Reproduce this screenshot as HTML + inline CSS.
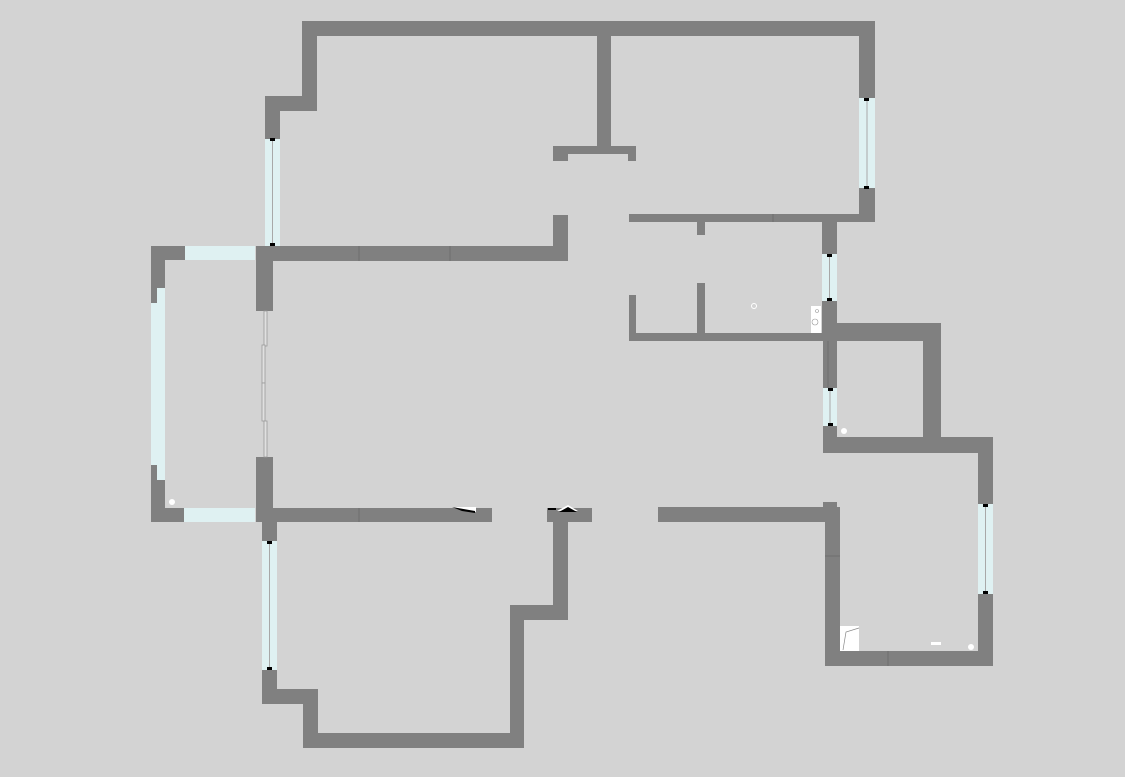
<!DOCTYPE html>
<html><head><meta charset="utf-8"><style>
html,body{margin:0;padding:0;background:#d3d3d3;}
svg{display:block;}
</style></head><body>
<svg width="1125" height="777" viewBox="0 0 1125 777" xmlns="http://www.w3.org/2000/svg">
<rect width="1125" height="777" fill="#d3d3d3"/>
<g fill="#808080">
<!-- top -->
<rect x="302" y="21" width="573" height="15"/>
<rect x="302" y="21" width="15" height="90"/>
<rect x="265" y="96" width="52" height="15"/>
<rect x="265" y="111" width="15" height="28"/>
<rect x="597" y="36" width="14" height="110"/>
<rect x="553" y="146" width="83" height="8"/>
<rect x="553" y="146" width="15" height="15"/>
<rect x="628" y="146" width="8" height="15"/>
<rect x="256" y="246" width="312" height="15"/>
<rect x="553" y="215" width="15" height="46"/>
<rect x="629" y="214" width="246" height="8"/>
<rect x="859" y="21" width="16" height="77"/>
<rect x="859" y="188" width="16" height="34"/>
<rect x="697" y="222" width="8" height="13"/>
<rect x="697" y="283" width="8" height="55"/>
<rect x="629" y="295" width="7" height="46"/>
<rect x="629" y="333" width="208" height="8"/>
<rect x="822" y="222" width="15" height="32"/>
<rect x="822" y="301" width="15" height="40"/>
<rect x="837" y="323" width="104" height="18"/>
<rect x="923" y="323" width="18" height="114"/>
<rect x="823" y="341" width="14" height="47"/>
<rect x="823" y="426" width="14" height="27"/>
<rect x="823" y="437" width="170" height="16"/>
<rect x="978" y="453" width="15" height="51"/>
<rect x="978" y="594" width="15" height="72"/>
<rect x="825" y="651" width="168" height="15"/>
<rect x="825" y="507" width="15" height="159"/>
<rect x="658" y="507" width="182" height="15"/>
<rect x="823" y="502" width="14" height="6"/>
<!-- left bay -->
<rect x="151" y="246" width="34" height="14"/>
<rect x="151" y="246" width="14" height="42"/>
<rect x="151" y="288" width="6" height="15"/>
<rect x="151" y="465" width="6" height="57"/>
<rect x="151" y="480" width="14" height="42"/>
<rect x="151" y="508" width="33" height="14"/>
<rect x="256" y="246" width="17" height="65"/>
<rect x="256" y="457" width="17" height="65"/>
<rect x="256" y="508" width="236" height="14"/>
<!-- bottom left room -->
<rect x="262" y="522" width="15" height="19"/>
<rect x="262" y="670" width="15" height="34"/>
<rect x="262" y="689" width="56" height="15"/>
<rect x="303" y="689" width="15" height="59"/>
<rect x="303" y="733" width="221" height="15"/>
<rect x="510" y="605" width="14" height="143"/>
<rect x="510" y="605" width="58" height="15"/>
<rect x="553" y="515" width="15" height="105"/>
<rect x="547" y="508" width="45" height="14"/>
</g>
<g stroke="#6e6e6e" stroke-width="1">
<line x1="359" y1="246" x2="359" y2="261"/><line x1="450" y1="246" x2="450" y2="261"/>
<line x1="359" y1="508" x2="359" y2="522"/>
<line x1="773" y1="214" x2="773" y2="222"/>
<line x1="825" y1="556" x2="840" y2="556"/><line x1="888" y1="651" x2="888" y2="666"/>
<line x1="828" y1="341" x2="828" y2="388"/>
</g>
<!-- glass -->
<g fill="#dff1f2">
<rect x="265" y="139" width="15" height="107"/>
<rect x="859" y="98" width="16" height="90"/>
<rect x="822" y="254" width="15" height="47"/>
<rect x="823" y="388" width="14" height="38"/>
<rect x="978" y="504" width="15" height="90"/>
<rect x="262" y="541" width="15" height="129"/>
<rect x="185" y="246" width="70" height="14"/>
<rect x="184" y="508" width="71" height="14"/>
<rect x="157" y="288" width="8" height="192"/>
<rect x="151" y="303" width="6" height="162"/>
</g>
<g stroke="#a8a8a8" stroke-width="1">
<line x1="272.5" y1="141" x2="272.5" y2="244"/>
<line x1="867" y1="100" x2="867" y2="186"/>
<line x1="829.5" y1="256" x2="829.5" y2="299"/>
<line x1="830" y1="390" x2="830" y2="424"/>
<line x1="985.5" y1="506" x2="985.5" y2="592"/>
<line x1="269.5" y1="543" x2="269.5" y2="668"/>
</g>
<g fill="#000">
<rect x="270" y="138" width="5" height="3"/><rect x="270" y="243" width="5" height="3"/>
<rect x="864" y="98" width="5" height="3"/><rect x="864" y="186" width="5" height="3"/>
<rect x="827" y="254" width="5" height="3"/><rect x="827" y="298" width="5" height="3"/>
<rect x="828" y="388" width="5" height="3"/><rect x="828" y="423" width="5" height="3"/>
<rect x="983" y="504" width="5" height="3"/><rect x="983" y="591" width="5" height="3"/>
<rect x="267" y="541" width="5" height="3"/><rect x="267" y="667" width="5" height="3"/>
</g>
<!-- sliding door -->
<g fill="#e0e0e0" stroke="#9a9a9a" stroke-width="0.8">
<rect x="264" y="311" width="3" height="35"/>
<rect x="262" y="345" width="3" height="38"/>
<rect x="262" y="383" width="3" height="38"/>
<rect x="264" y="421" width="3" height="36"/>
</g>
<!-- fixtures -->
<rect x="811" y="306" width="10" height="27" fill="#fff"/>
<circle cx="817" cy="311" r="1.5" fill="none" stroke="#999" stroke-width="0.6"/>
<circle cx="815" cy="322" r="3" fill="none" stroke="#999" stroke-width="0.6"/>
<circle cx="754" cy="306" r="2.5" fill="none" stroke="#fff" stroke-width="1"/>
<circle cx="844" cy="431" r="3" fill="#fff"/>
<circle cx="172" cy="502" r="3" fill="#fff"/>
<circle cx="971" cy="647" r="3" fill="#fff"/>
<rect x="931" y="642" width="10" height="3" fill="#fff"/>
<polygon points="840,626 859,626 859,651 840,651" fill="#fff"/>
<polyline points="843,650 846,632 859,628" fill="none" stroke="#888" stroke-width="0.7"/>
<polygon points="452,507 476,507 476,512 452,507" fill="#fff"/>
<polygon points="452,507 475,511 475,513 462,511" fill="#000"/>
<polygon points="557,511 568,505 578,511" fill="#fff"/>
<polygon points="559,512 568,507 577,512" fill="#000"/>
<rect x="548" y="508" width="8" height="2" fill="#000"/>
</svg>
</body></html>
